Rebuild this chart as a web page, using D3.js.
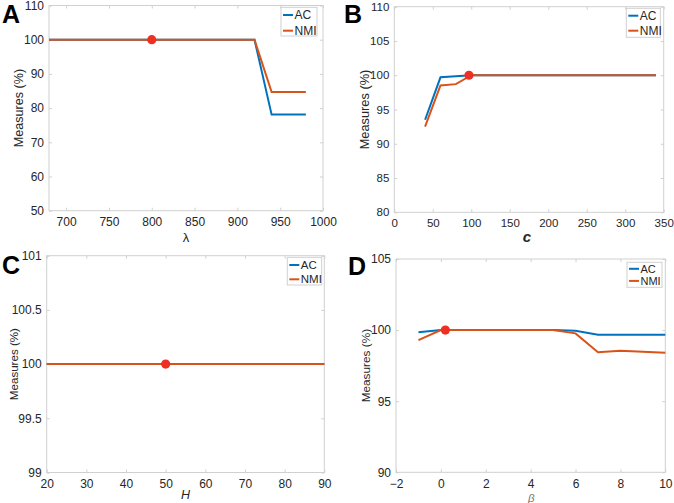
<!DOCTYPE html>
<html>
<head>
<meta charset="utf-8">
<script src="https://cdn.jsdelivr.net/npm/d3@7"></script>
<style>
  body { margin: 0; background: #fff; }
  svg text { font-family: "Liberation Sans", Arial, Helvetica, sans-serif; fill: #262626; }
</style>
</head>
<body>
<div id="chart"></div>
<script>
// panel A: lambda
const lambdaX = [680, 700, 720, 740, 760, 780, 800, 820, 840, 860, 880, 900, 920, 940, 960, 980];
const lambdaAC = [100, 100, 100, 100, 100, 100, 100, 100, 100, 100, 100, 100, 100, 78.1, 78.1, 78.1];
const lambdaNMI = [100, 100, 100, 100, 100, 100, 100, 100, 100, 100, 100, 100, 100, 84.7, 84.7, 84.7];
const lambdaBest = [800, 100];

// panel B: c
const cX = [40, 60, 80, 100, 120, 140, 160, 180, 200, 220, 240, 260, 280, 300, 320, 340];
const cAC = [93.5, 99.7, 99.85, 100, 100, 100, 100, 100, 100, 100, 100, 100, 100, 100, 100, 100];
const cNMI = [92.5, 98.5, 98.7, 100, 100, 100, 100, 100, 100, 100, 100, 100, 100, 100, 100, 100];
const cBest = [97, 100];

// panel C: H
const hX = [20, 30, 40, 50, 60, 70, 80, 90];
const hAC = [100, 100, 100, 100, 100, 100, 100, 100];
const hNMI = [100, 100, 100, 100, 100, 100, 100, 100];
const hBest = [50, 100];

// panel D: beta
const betaX = [-1, 0, 1, 2, 3, 4, 5, 6, 7, 8, 9, 10];
const betaAC = [99.85, 100, 100, 100, 100, 100, 100, 99.96, 99.67, 99.67, 99.67, 99.67];
const betaNMI = [99.3, 100, 100, 100, 100, 100, 100, 99.77, 98.44, 98.55, 98.48, 98.41];
const betaBest = [0.2, 100];

const xTicksA = [700, 750, 800, 850, 900, 950, 1000];
const yTicksA = [50, 60, 70, 80, 90, 100, 110];
const xTicksB = [0, 50, 100, 150, 200, 250, 300, 350];
const yTicksB = [80, 85, 90, 95, 100, 105, 110];
const xTicksC = [20, 30, 40, 50, 60, 70, 80, 90];
const yTicksC = [99, 99.5, 100, 100.5, 101];
const xTicksD = [-2, 0, 2, 4, 6, 8, 10];
const yTicksD = [90, 95, 100, 105];

const seriesNames = ["AC", "NMI"];

const acColor = "#0072BD";
const nmiColor = "#D95319";
const dotColor = "#EE3024";
const boxColor = "#d0d0d0";

const width = 674, height = 503;

const svg = d3.select("#chart").append("svg")
    .attr("width", width)
    .attr("height", height);

const panels = [
    {letter: "A", lx: 2, ly: 23, x: lambdaX, ac: lambdaAC, nmi: lambdaNMI, best: lambdaBest,
     xDom: [680, 1000], yDom: [50, 110], xTicks: xTicksA, yTicks: yTicksA, tickSize: 12,
     left: 49, right: 323, top: 5.5, bottom: 210.7,
     xLabel: "λ", xLabelStyle: {size: 13, italic: false, bold: false, color: "#262626"}, xLabelX: 186, xLabelY: 242,
     yLabelX: 18, yLabelSize: 12.6, legend: {x: 281, y: 7.3, w: 36, h: 28.7, rows: [7.7, 23.4], font: 12}},
    {letter: "B", lx: 344, ly: 23, x: cX, ac: cAC, nmi: cNMI, best: cBest,
     xDom: [0, 350], yDom: [80, 110], xTicks: xTicksB, yTicks: yTicksB, tickSize: 11.5,
     left: 394.3, right: 663.7, top: 6.7, bottom: 212.3,
     xLabel: "c", xLabelStyle: {size: 15, italic: true, bold: true, color: "#262626"}, xLabelX: 527, xLabelY: 241.7,
     yLabelX: 364, yLabelSize: 12.8, legend: {x: 626.3, y: 8.3, w: 34, h: 29, rows: [7.4, 22.4], font: 12}},
    {letter: "C", lx: 2, ly: 274, x: hX, ac: hAC, nmi: hNMI, best: hBest,
     xDom: [20, 90], yDom: [99, 101], xTicks: xTicksC, yTicks: yTicksC, tickSize: 12,
     left: 46.7, right: 324.3, top: 255.7, bottom: 472.5,
     xLabel: "H", xLabelStyle: {size: 12.5, italic: true, bold: false, color: "#262626"}, xLabelX: 185.5, xLabelY: 499.3,
     yLabelX: 13.5, yLabelSize: 11.6, legend: {x: 287.3, y: 257.3, w: 34.4, h: 27.7, rows: [7.7, 22], font: 11.5}},
    {letter: "D", lx: 348, ly: 275, x: betaX, ac: betaAC, nmi: betaNMI, best: betaBest,
     xDom: [-2, 10], yDom: [90, 105], xTicks: xTicksD, yTicks: yTicksD, tickSize: 12,
     left: 396, right: 665.3, top: 259, bottom: 472.3,
     xLabel: "β", xLabelStyle: {size: 11.5, italic: true, bold: false, color: "#777"}, xLabelX: 531.3, xLabelY: 501.5,
     yLabelX: 365.5, yLabelSize: 11.8, legend: {x: 627, y: 262.3, w: 35, h: 25, rows: [6.5, 18.6], font: 11}}
];

panels.forEach(drawPanel);

function drawPanel(p) {
    const w = p.right - p.left;
    const h = p.bottom - p.top;

    const g = svg.append("g")
        .attr("transform", "translate(" + p.left + "," + p.top + ")");

    const xScale = d3.scaleLinear().domain(p.xDom).range([0, w]);
    const yScale = d3.scaleLinear().domain(p.yDom).range([h, 0]);

    // box
    g.append("rect")
        .attr("width", w)
        .attr("height", h)
        .attr("fill", "#fff")
        .attr("stroke", boxColor)
        .attr("stroke-width", 1);

    const styleAxis = sel => {
        sel.select(".domain").remove();
        sel.selectAll(".tick line").attr("stroke", boxColor);
        sel.selectAll(".tick text")
            .attr("font-size", p.tickSize)
            .attr("fill", "#262626");
    };

    g.append("g")
        .attr("transform", "translate(0," + h + ")")
        .call(d3.axisBottom(xScale).tickValues(p.xTicks).tickSize(-3).tickPadding(7).tickFormat(d3.format("")))
        .call(styleAxis);

    g.append("g")
        .call(d3.axisTop(xScale).tickValues(p.xTicks).tickSize(-3).tickFormat(""))
        .call(styleAxis);

    g.append("g")
        .call(d3.axisLeft(yScale).tickValues(p.yTicks).tickSize(-3).tickPadding(5).tickFormat(d3.format("")))
        .call(styleAxis);

    g.append("g")
        .attr("transform", "translate(" + w + ",0)")
        .call(d3.axisRight(yScale).tickValues(p.yTicks).tickSize(-3).tickFormat(""))
        .call(styleAxis);

    const line = d3.line()
        .x((d, i) => xScale(p.x[i]))
        .y(d => yScale(d));

    g.append("path")
        .datum(p.ac)
        .attr("fill", "none")
        .attr("stroke", acColor)
        .attr("stroke-width", 2)
        .attr("d", line);

    g.append("path")
        .datum(p.nmi)
        .attr("fill", "none")
        .attr("stroke", nmiColor)
        .attr("stroke-width", 2)
        .attr("d", line);

    g.append("circle")
        .attr("cx", xScale(p.best[0]))
        .attr("cy", yScale(p.best[1]))
        .attr("r", 4.6)
        .attr("fill", dotColor);

    // legend
    const lg = svg.append("g")
        .attr("transform", "translate(" + p.legend.x + "," + p.legend.y + ")");
    lg.append("rect")
        .attr("width", p.legend.w)
        .attr("height", p.legend.h)
        .attr("fill", "#fff")
        .attr("stroke", boxColor);
    seriesNames.forEach((name, i) => {
        const cy = p.legend.rows[i];
        lg.append("line")
            .attr("x1", 2).attr("x2", 12)
            .attr("y1", cy).attr("y2", cy)
            .attr("stroke", i === 0 ? acColor : nmiColor)
            .attr("stroke-width", 2);
        lg.append("text")
            .attr("x", 13.5)
            .attr("y", cy)
            .attr("dy", "0.36em")
            .attr("font-size", p.legend.font)
            .text(name);
    });

    // axis labels
    const s = p.xLabelStyle;
    svg.append("text")
        .attr("x", p.xLabelX)
        .attr("y", p.xLabelY)
        .attr("text-anchor", "middle")
        .attr("font-size", s.size)
        .attr("font-style", s.italic ? "italic" : "normal")
        .attr("font-weight", s.bold ? "bold" : "normal")
        .style("fill", s.color)
        .text(p.xLabel);

    svg.append("text")
        .attr("transform", "translate(" + p.yLabelX + "," + (p.top + h / 2) + ") rotate(-90)")
        .attr("text-anchor", "middle")
        .attr("dy", "0.36em")
        .attr("font-size", p.yLabelSize)
        .text("Measures (%)");

    svg.append("text")
        .attr("x", p.lx)
        .attr("y", p.ly)
        .attr("font-size", 25)
        .attr("font-weight", "bold")
        .style("fill", "#000")
        .text(p.letter);
}
</script>
</body>
</html>
